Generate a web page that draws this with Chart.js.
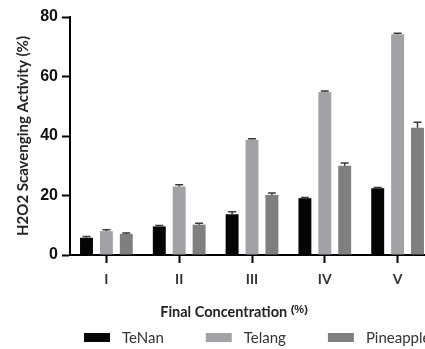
<!DOCTYPE html>
<html>
<head>
<meta charset="utf-8">
<script src="https://cdn.jsdelivr.net/npm/chart.js@4.4.0/dist/chart.umd.min.js"></script>
<style>
html, body { margin: 0; padding: 0; background: #fff; overflow: hidden; }
#wrap { width: 425px; height: 349px; overflow: hidden; }
</style>
</head>
<body>
<div id="wrap"><canvas id="h2o2" width="436" height="349"></canvas></div>
<script>
var Levels = ['I', 'II', 'III', 'IV', 'V'];
var TeNan = [5.8, 9.6, 13.7, 19.1, 22.4];
var Telang = [8.0, 23.0, 38.7, 54.8, 74.2];
var Pineapple = [7.1, 10.2, 20.2, 30.0, 42.8];
var TeNanErr = [0.4, 0.3, 0.8, 0.2, 0.3];
var TelangErr = [0.5, 0.6, 0.4, 0.3, 0.3];
var PineappleErr = [0.3, 0.5, 0.6, 0.9, 1.8];
var yTicks = [0, 20, 40, 60, 80];

// small caps on top of each bar
var errorBars = {
    id: 'errorBars',
    afterDatasetsDraw: function (chart) {
        var ctx = chart.ctx;
        var y = chart.scales.y;
        ctx.save();
        ctx.strokeStyle = '#3a3a3a';
        ctx.lineWidth = 1.5;
        chart.data.datasets.forEach(function (ds, i) {
            var meta = chart.getDatasetMeta(i);
            meta.data.forEach(function (bar, j) {
                var top = y.getPixelForValue(ds.data[j] + ds.errors[j]);
                ctx.beginPath();
                ctx.moveTo(bar.x, bar.y);
                ctx.lineTo(bar.x, top);
                ctx.moveTo(bar.x - 4, top);
                ctx.lineTo(bar.x + 4, top);
                ctx.stroke();
            });
        });
        ctx.restore();
    }
};

// x title and legend under the axis
var bottomText = {
    id: 'bottomText',
    afterDraw: function (chart) {
        var ctx = chart.ctx, area = chart.chartArea;
        ctx.save();
        ctx.textBaseline = 'middle';
        ctx.textAlign = 'left';
        ctx.fillStyle = '#222';
        var t1 = 'Final Concentration ', t2 = '(%)';
        ctx.font = 'bold 14.5px Lato';
        var w1 = ctx.measureText(t1).width;
        ctx.font = 'bold 11px "Liberation Sans"';
        var w2 = ctx.measureText(t2).width;
        var x0 = (area.left + area.right) / 2 - 18 - (w1 + w2) / 2;
        ctx.font = 'bold 14.5px Lato';
        ctx.fillText(t1, x0, 312);
        ctx.font = 'bold 11px "Liberation Sans"';
        ctx.fillText(t2, x0 + w1, 310);

        ctx.font = '15px Lato';
        var x = area.left + 14;
        chart.data.datasets.forEach(function (ds) {
            ctx.fillStyle = ds.backgroundColor;
            ctx.fillRect(x, 333, 26, 9);
            x += 26 + 12;
            ctx.fillStyle = '#333';
            ctx.fillText(ds.label, x, 338);
            x += ctx.measureText(ds.label).width + 42;
        });
        ctx.restore();
    }
};

new Chart('h2o2', {
    type: 'bar',
    data: {
        labels: Levels,
        datasets: [
            { label: 'TeNan', data: TeNan, errors: TeNanErr, backgroundColor: '#050505' },
            { label: 'Telang', data: Telang, errors: TelangErr, backgroundColor: '#a2a2a6' },
            { label: 'Pineapple', data: Pineapple, errors: PineappleErr, backgroundColor: '#7f7f7f' }
        ]
    },
    options: {
        responsive: false,
        animation: false,
        layout: { padding: { top: 17, right: 2, left: 0, bottom: 0 } },
        datasets: { bar: { categoryPercentage: 0.82, barPercentage: 0.65 } },
        plugins: { legend: { display: false }, tooltip: { enabled: false } },
        scales: {
            x: {
                grid: { drawOnChartArea: false, offset: false, tickLength: 8, tickWidth: 2, tickColor: '#000' },
                border: { color: '#000', width: 2 },
                ticks: { color: '#333', padding: 8, font: { family: 'Lato', weight: 'bold', size: 14 } },
                afterFit: function (s) { s.height = 94; }
            },
            y: {
                min: 0,
                max: 80,
                afterBuildTicks: function (s) { s.ticks = yTicks.map(function (v) { return { value: v }; }); },
                grid: { drawOnChartArea: false, tickLength: 8, tickWidth: 2, tickColor: '#000' },
                border: { color: '#000', width: 2 },
                ticks: { color: '#111', padding: 4, font: { family: 'Liberation Sans', weight: 'bold', size: 16 } },
                title: {
                    display: true,
                    text: 'H2O2 Scavenging Activity (%)',
                    color: '#222',
                    padding: { top: 14, bottom: 0 },
                    font: { family: 'Lato', weight: 'bold', size: 15 }
                },
                afterFit: function (s) { s.width = 70; }
            }
        }
    },
    plugins: [errorBars, bottomText]
});
</script>
</body>
</html>
